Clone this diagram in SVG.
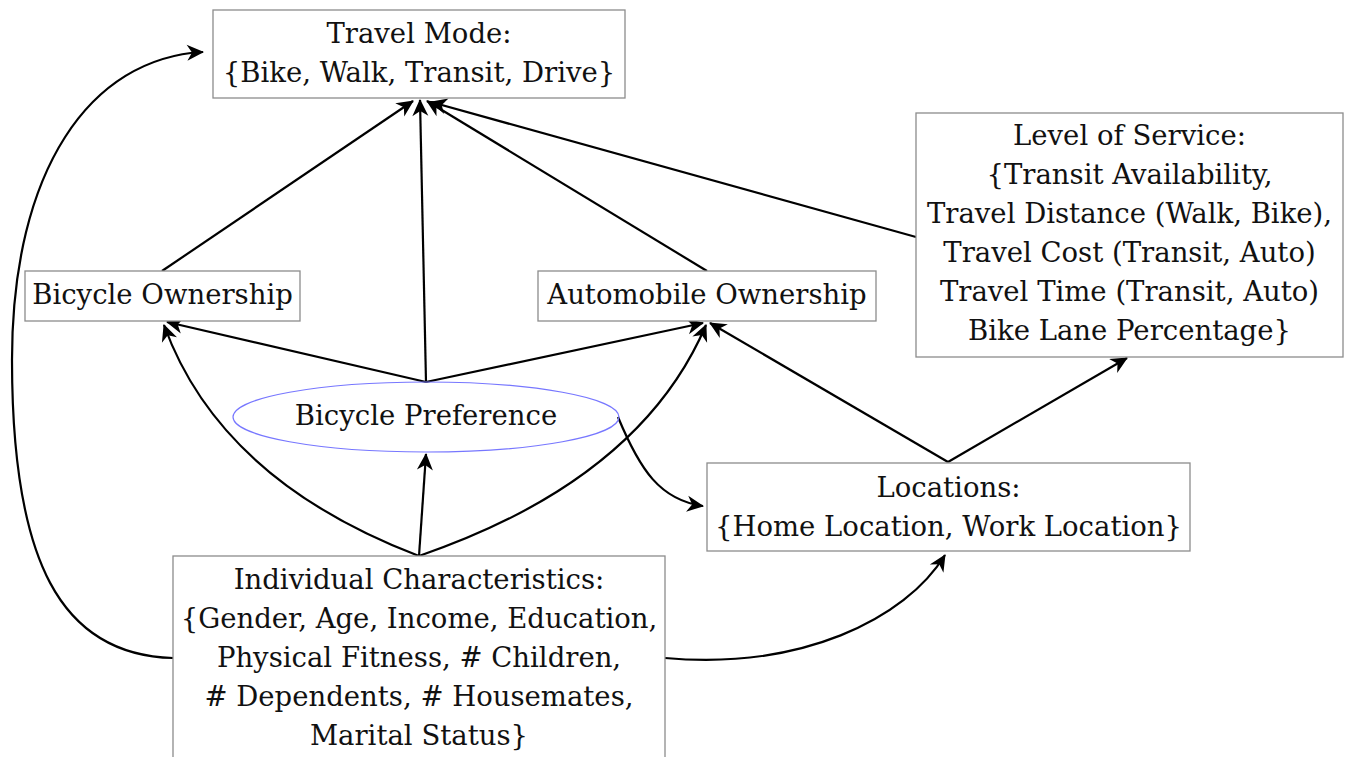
<svg xmlns="http://www.w3.org/2000/svg" width="1348" height="757" viewBox="0 0 1348 757">
<style>
.box{fill:#fff;stroke:#8c8c8c;stroke-width:1.3}
.ell{fill:none;stroke:#7777ff;stroke-width:1.2}
text{font-family:"DejaVu Serif","Liberation Serif",serif;font-size:27.5px;fill:#111;text-anchor:middle}
.c{fill:none;stroke:#000;stroke-width:2.2;marker-end:url(#ah)}
</style>
<defs>
<marker id="ah" viewBox="-18 -10 20 20" refX="0" refY="0" markerWidth="20" markerHeight="20" markerUnits="userSpaceOnUse" orient="auto">
<path d="M1,0 L-16,-8 L-11,0 L-16,8 Z" fill="#000"/>
</marker>
</defs>
<g id="connectors">
<path class="c" d="M162,271 L413,101"/>
<path class="c" d="M426,382 L420,100"/>
<path class="c" d="M707,271 L427,101"/>
<path class="c" d="M916,237 L431,102"/>
<path class="c" d="M426,382 L167,322"/>
<path class="c" d="M426,382 L703,323"/>
<path class="c" d="M419,556 Q220,480 164,325"/>
<path class="c" d="M419,556 Q640,480 706,325"/>
<path class="c" d="M419,556 L426,454"/>
<path class="c" d="M618,417 C640,470 660,500 703,506"/>
<path class="c" d="M948,462 L710,323"/>
<path class="c" d="M948,462 L1127,358"/>
<path class="c" d="M173,658 C60,655 12,560 12,360 C12,170 90,58 203,52"/>
<path class="c" d="M665,658 C800,670 905,620 945,555"/>
</g>
<g id="travel-mode">
<rect class="box" x="213" y="10" width="412" height="88"/>
<text x="419" y="43">Travel Mode:</text>
<text x="419" y="82">{Bike, Walk, Transit, Drive}</text>
</g>
<g id="level-of-service">
<rect class="box" x="916" y="113" width="427" height="244"/>
<text x="1129.5" y="145">Level of Service:</text>
<text x="1129.5" y="184">{Transit Availability,</text>
<text x="1129.5" y="223">Travel Distance (Walk, Bike),</text>
<text x="1129.5" y="262">Travel Cost (Transit, Auto)</text>
<text x="1129.5" y="301">Travel Time (Transit, Auto)</text>
<text x="1129.5" y="340">Bike Lane Percentage}</text>
</g>
<g id="bicycle-ownership">
<rect class="box" x="25" y="271" width="275" height="50"/>
<text x="162.5" y="304">Bicycle Ownership</text>
</g>
<g id="automobile-ownership">
<rect class="box" x="538" y="271" width="338" height="50"/>
<text x="707" y="304">Automobile Ownership</text>
</g>
<g id="bicycle-preference">
<ellipse class="ell" cx="426" cy="417" rx="193" ry="35"/>
<text x="426" y="425">Bicycle Preference</text>
</g>
<g id="locations">
<rect class="box" x="707" y="463" width="483" height="88"/>
<text x="948.5" y="497">Locations:</text>
<text x="948.5" y="536">{Home Location, Work Location}</text>
</g>
<g id="individual-characteristics">
<rect class="box" x="173" y="556" width="492" height="220"/>
<text x="419" y="589">Individual Characteristics:</text>
<text x="419" y="628">{Gender, Age, Income, Education,</text>
<text x="419" y="667">Physical Fitness, # Children,</text>
<text x="419" y="706"># Dependents, # Housemates,</text>
<text x="419" y="745">Marital Status}</text>
</g>
</svg>
